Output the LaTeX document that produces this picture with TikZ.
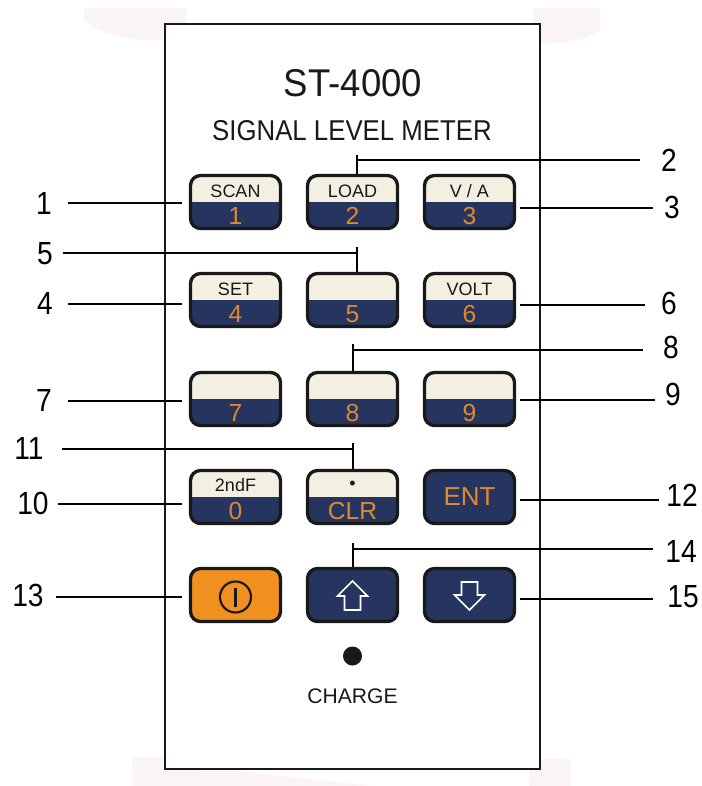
\documentclass[tikz,border=0pt]{standalone}
\usepackage{fontspec}
\setmainfont{Liberation Sans}
\usetikzlibrary{calc}

\definecolor{keynavy}{HTML}{25355F}
\definecolor{keycream}{HTML}{F3F0E2}
\definecolor{keyorange}{HTML}{F0901F}
\definecolor{txtorange}{HTML}{E2882C}
\definecolor{blobpink}{HTML}{FBF4F4}

\tikzset{
    keybase/.style={draw=black!90, line width=2.5pt, rounded corners=7.5pt, minimum width=67.5pt, minimum height=39.75pt, inner sep=0pt},
    keytwo/.style={keybase, fill=keycream, path picture={\fill[keynavy, sharp corners] (path picture bounding box.west) rectangle (path picture bounding box.south east);}},
    keyfull/.style={keybase, fill=keynavy},
    toplab/.style={font=\fontsize{13.5}{14}\selectfont, text=black!90, inner sep=0pt},
    lowlab/.style={font=\fontsize{18.5}{19}\selectfont, text=txtorange, inner sep=0pt},
    numlab/.style={font=\fontsize{24}{25}\selectfont, text=black, inner sep=0pt},
    lead/.style={line width=1.5pt, black},
}

\begin{document}
\begin{tikzpicture}[x=0.75pt, y=-0.75pt]
    \useasboundingbox (0,0) rectangle (702,786);

    % pale marks round the panel
    \fill[blobpink] (84,8) -- (186,8) -- (186,40) -- (145,40) .. controls (115,38) and (95,30) .. (84,20) -- cycle;
    \fill[blobpink] (533,8) -- (600,8) -- (600,30) .. controls (585,40) and (565,43) .. (550,43) -- (533,43) -- cycle;
    \fill[blobpink] (132,757) -- (200,757) -- (200,771) -- (240,771) -- (370,786) -- (132,786) -- cycle;
    \fill[blobpink] (529,759) -- (570,759) -- (571,786) -- (529,786) -- cycle;

    \draw[line width=1.9pt, black!90, fill=white] (165,24) rectangle (540,769);

    \node[font=\fontsize{29}{30}\selectfont, black!90] (title) at (353,83) {\scalebox{.945}[1]{ST-4000}};
    \node[font=\fontsize{21.5}{22}\selectfont, black!90] (subtitle) at (352,131) {\scalebox{.9}[1]{SIGNAL LEVEL METER}};

    % keys with two colours
    \foreach \k/\x/\y in {1/235.5/202, 2/352.5/202, 3/469.5/202, 4/235.5/300, 5/352.5/300, 6/469.5/300, 7/235.5/399, 8/352.5/399, 9/469.5/399}
        {\node[keytwo] (key\k) at (\x,\y) {};
         \node[lowlab] (low\k) at ($(key\k)+(0,14)$) {\k};}
    \node[keytwo] (key0) at (235.5,497) {};
    \node[keytwo] (keyclr) at (352.5,497) {};
    \node[lowlab] (low0) at ($(key0)+(0,14)$) {0};
    \node[lowlab] (lowclr) at ($(keyclr)+(0,14)$) {CLR};

    \node[toplab] (top1) at ($(key1)+(0,-11)$) {SCAN};
    \node[toplab] (top2) at ($(key2)+(0,-11)$) {LOAD};
    \node[toplab] (top3) at ($(key3)+(0,-11)$) {V / A};
    \node[toplab] (top4) at ($(key4)+(0,-11)$) {SET};
    \node[toplab] (top6) at ($(key6)+(0,-11)$) {VOLT};
    \node[toplab] (top0) at ($(key0)+(0,-12)$) {2ndF};
    \node[toplab] (topclr) at ($(keyclr)+(0,-12)$) {\textbullet};

    % keys with one colour
    \node[keyfull, font=\fontsize{19.5}{20}\selectfont, text=txtorange] (keyent) at (469.5,497) {ENT};
    \node[keybase, fill=keyorange] (keypow) at (235.5,595) {};
    \node[keyfull] (keyup) at (352.5,595) {};
    \node[keyfull] (keydown) at (469.5,595) {};

    \draw[line width=1.6pt, black!90] (keypow) ++(0,2) circle (15.5);
    \draw[line width=2pt, black!90] ($(keypow)+(0,-7.5)$) -- ($(keypow)+(0,11.5)$);
    \draw[line width=1.2pt, white, line join=miter] ($(keyup)+(0,-14)$) -- ++(15,15) -- ++(-7,0) -- ++(0,14) -- ++(-16,0) -- ++(0,-14) -- ++(-7,0) -- cycle;
    \draw[line width=1.2pt, white, line join=miter] ($(keydown)+(0,15)$) -- ++(15,-15) -- ++(-7,0) -- ++(0,-13) -- ++(-16,0) -- ++(0,13) -- ++(-7,0) -- cycle;

    \fill[black!90] (352.5,656) circle (9.5);
    \node[font=\fontsize{15.8}{16}\selectfont, black!90] (charge) at (352.5,696) {CHARGE};

    % numbers
    \foreach \n/\x/\y in {1/44/203, 2/669/160, 3/672/207, 4/45/303, 5/45/254, 6/669/303, 7/44/400, 8/671/347, 9/673/394, 10/33/503, 11/29/448, 12/682/495, 13/28/595, 14/681/551, 15/683/597}
        \node[numlab] (num\n) at (\x,\y) {\scalebox{.88}[1]{\n}};

    % straight leaders, from the free end to the key
    \foreach \n/\k/\x/\y in {1/1/68/203, 4/4/68/304, 7/7/68/401, 10/0/58/504, 13/pow/56/597}
        {\coordinate (end\n) at (\x,\y);
         \draw[lead, shorten >=5.5pt] (end\n) -- (end\n -| key\k.west);}
    \foreach \n/\k/\x/\y in {3/3/653/208, 6/6/645/305, 9/9/655/400, 12/ent/659/500, 15/down/653/599}
        {\coordinate (end\n) at (\x,\y);
         \draw[lead, shorten >=3pt] (end\n) -- (end\n -| key\k.east);}

    % leaders with a stem
    \foreach \n/\k/\sx/\sy/\x/\y in {2/2/357/155/640/160, 5/5/357/247/63/253, 8/8/353/344/643/350, 11/clr/353/443/62/449, 14/up/353/543/653/549}
        {\coordinate (stem\n) at (\sx,\sy);
         \coordinate (end\n) at (\x,\y);
         \draw[lead] (end\n) -- (end\n -| stem\n);
         \draw[lead] (stem\n) -- (stem\n |- key\k.north);}
\end{tikzpicture}
\end{document}
